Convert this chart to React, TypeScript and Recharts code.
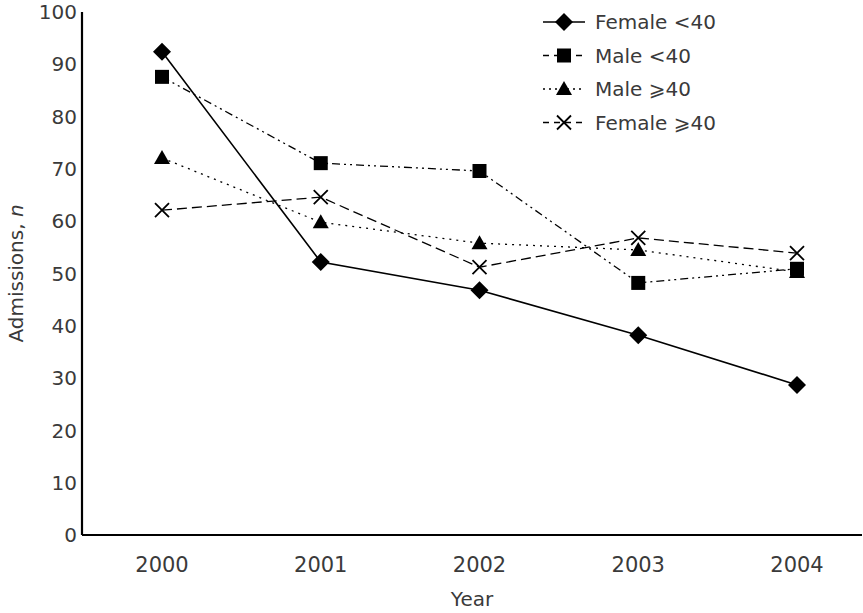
import React from "react";
import { LineChart, Line, XAxis, YAxis, Label } from "recharts";

const years = ["2000", "2001", "2002", "2003", "2004"];
const femaleUnder40 = [92.4, 52.2, 46.8, 38.2, 28.7];
const maleUnder40 = [87.6, 71.1, 69.6, 48.2, 50.9];
const maleOver40 = [72.1, 59.8, 55.8, 54.5, 50.3];
const femaleOver40 = [62.1, 64.6, 51.2, 56.8, 53.9];
const yTicks = [0, 10, 20, 30, 40, 50, 60, 70, 80, 90, 100];

const data = years.map((year, i) => ({
  year,
  femaleUnder40: femaleUnder40[i],
  maleUnder40: maleUnder40[i],
  maleOver40: maleOver40[i],
  femaleOver40: femaleOver40[i],
}));

const FONT = "'DejaVu Sans', sans-serif";
const TEXT = "#3a3a3a";

type Shape = "diamond" | "square" | "triangle" | "cross";

function Marker({ shape, cx, cy }: { shape: Shape; cx: number; cy: number }) {
  if (cx == null || cy == null) return null;
  if (shape === "diamond")
    return <path d={`M${cx},${cy - 9} L${cx + 9},${cy} L${cx},${cy + 9} L${cx - 9},${cy} Z`} fill="#000" />;
  if (shape === "square") return <rect x={cx - 7} y={cy - 7} width={14} height={14} fill="#000" />;
  if (shape === "triangle")
    return <path d={`M${cx},${cy - 8} L${cx + 8},${cy + 6} L${cx - 8},${cy + 6} Z`} fill="#000" />;
  return (
    <path
      d={`M${cx - 7},${cy - 7} L${cx + 7},${cy + 7} M${cx + 7},${cy - 7} L${cx - 7},${cy + 7}`}
      stroke="#000"
      strokeWidth={1.8}
      fill="none"
    />
  );
}

const series = [
  { key: "femaleUnder40", name: "Female <40", shape: "diamond" as Shape, dash: undefined, legendDash: undefined },
  { key: "maleUnder40", name: "Male <40", shape: "square" as Shape, dash: "8 4 2 4 2 4", legendDash: "6 5" },
  { key: "maleOver40", name: "Male \u2a7e40", shape: "triangle" as Shape, dash: "2 5", legendDash: "2 4" },
  { key: "femaleOver40", name: "Female \u2a7e40", shape: "cross" as Shape, dash: "10 5", legendDash: "6 5" },
];

function LegendBox() {
  return (
    <svg width={220} height={140} style={{ position: "absolute", left: 541, top: 0 }}>
      {series.map((s, i) => {
        const y = 22 + i * 33.5;
        return (
          <g key={s.key}>
            <line x1={2} x2={44} y1={y} y2={y} stroke="#000" strokeWidth={1.3} strokeDasharray={s.legendDash} />
            <Marker shape={s.shape} cx={23} cy={y} />
            <text x={54} y={y + 7} fill={TEXT} fontFamily={FONT} fontSize={20}>
              {s.name}
            </text>
          </g>
        );
      })}
    </svg>
  );
}

function YLabel({ viewBox }: any) {
  const cx = 16;
  const cy = viewBox ? viewBox.y + viewBox.height / 2 : 272;
  return (
    <text
      x={cx}
      y={cy}
      transform={`rotate(-90 ${cx} ${cy})`}
      textAnchor="middle"
      dominantBaseline="central"
      fill={TEXT}
      fontFamily={FONT}
      fontSize={20}
    >
      Admissions, <tspan fontStyle="italic">n</tspan>
    </text>
  );
}

export default function App() {
  return (
    <div style={{ position: "absolute", left: 0, top: 0, width: 863, height: 613, background: "#fff" }}>
      <LineChart width={863} height={613} data={data} margin={{ top: 12, right: 1, bottom: 0, left: 0 }}>
        <XAxis
          dataKey="year"
          padding={{ left: 80, right: 65 }}
          axisLine={{ stroke: "#000", strokeWidth: 2.2 }}
          tickLine={false}
          tickSize={0}
          tickMargin={22}
          height={78}
          tick={{ fill: TEXT, fontFamily: FONT, fontSize: 21 }}
        >
          <Label value="Year" position="insideBottom" offset={7} fill={TEXT} fontFamily={FONT} fontSize={20} />
        </XAxis>
        <YAxis
          domain={[0, 100]}
          ticks={yTicks}
          width={82}
          interval={0}
          axisLine={{ stroke: "#000", strokeWidth: 2.2 }}
          tickLine={false}
          tickSize={0}
          tickMargin={5}
          tick={{ fill: TEXT, fontFamily: FONT, fontSize: 20 }}
        >
          <Label content={<YLabel />} />
        </YAxis>
        {series.map((s) => (
          <Line
            key={s.key}
            dataKey={s.key}
            name={s.name}
            stroke="#000"
            strokeWidth={s.dash ? 1.3 : 1.6}
            strokeDasharray={s.dash}
            isAnimationActive={false}
            dot={(p: any) => <Marker key={`${s.key}-${p.index}`} shape={s.shape} cx={p.cx} cy={p.cy} />}
            activeDot={false}
          />
        ))}
      </LineChart>
      <LegendBox />
    </div>
  );
}
